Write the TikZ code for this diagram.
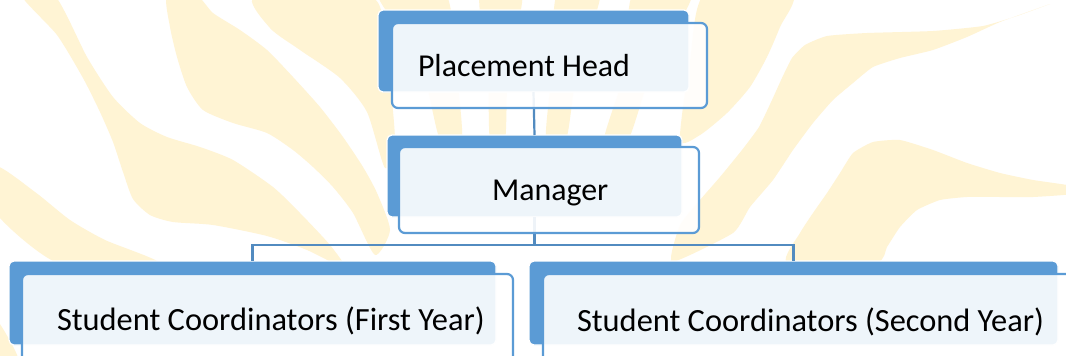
\documentclass[tikz,border=0pt]{standalone}
\usepackage{fontspec}
\setmainfont{Carlito}
\definecolor{sablue}{RGB}{91,155,213}
\definecolor{flame}{RGB}{255,244,212}
\tikzset{
  backbox/.style={rectangle, rounded corners=5pt, fill=sablue, draw=white, line width=1.2pt, inner sep=0pt, outer sep=0pt},
  frontbox/.style={rectangle, rounded corners=6pt, fill=white, fill opacity=0.9, draw=sablue, draw opacity=1, line width=2.2pt, inner sep=0pt, outer sep=0pt},
  label/.style={anchor=base west, inner sep=0pt, outer sep=0pt, font=\fontsize{31.9}{38}\selectfont, text=black},
  biglabel/.style={label, font=\fontsize{32.4}{38}\selectfont},
  conn/.style={draw=sablue!90!black, line width=2.2pt},
  ray/.style={fill=flame, draw=none}
}
\begin{document}
\begin{tikzpicture}[x=1pt,y=-1pt]
\useasboundingbox (0,0) rectangle (1066,356);
\fill[white] (0,0) rectangle (1066,356);
% background flames
\begin{scope}
\clip (0,0) rectangle (1066,356);
\fill[ray] plot[smooth cycle, tension=0.4] coordinates {(22,-4) (55,-4) (87,57) (113,97) (140,123) (167,137) (200,147) (233,160) (273,187) (300,213) (330,245) (345,268) (307,250) (267,236) (213,225) (173,222) (150,215) (133,199) (123,172) (113,142) (100,112) (83,78) (57,35)};
\fill[ray] plot[smooth cycle, tension=0.4] coordinates {(167,-4) (197,-4) (213,13) (240,30) (267,50) (293,77) (320,107) (343,137) (363,167) (377,193) (390,230) (375,255) (353,213) (333,187) (313,167) (293,150) (267,133) (233,123) (203,110) (187,87) (177,57) (170,27)};
\fill[ray] plot[smooth cycle, tension=0.4] coordinates {(255,-4) (370,-4) (385,40) (395,140) (385,168) (367,112) (340,78) (300,50) (270,28)};
\fill[ray] plot[smooth cycle, tension=0.4] coordinates {(-5,166) (35,192) (70,220) (105,240) (160,264) (60,264) (-5,212)};
\fill[ray] plot[smooth cycle, tension=0.4] coordinates {(-5,318) (18,358) (-5,358)};
\fill[ray] plot[smooth cycle, tension=0.4] coordinates {(378,-6) (445,-6) (455,60) (462,140) (440,140) (420,60)};
\fill[ray] plot[smooth cycle, tension=0.4] coordinates {(480,-6) (522,-6) (508,70) (505,140) (490,140) (488,70)};
\fill[ray] plot[smooth cycle, tension=0.4] coordinates {(557,-6) (600,-6) (577,70) (566,140) (546,140) (552,70)};
\fill[ray] plot[smooth cycle, tension=0.4] coordinates {(633,-6) (692,-6) (652,70) (628,140) (604,140) (625,70)};
\fill[ray] plot[smooth cycle, tension=0.4] coordinates {(705,-6) (792,-6) (780,27) (767,57) (750,87) (727,113) (700,135) (680,140) (690,60)};
\fill[ray] plot[smooth cycle, tension=0.3] coordinates {(1050,4) (1017,16) (983,26) (933,31) (867,33) (827,36) (805,45) (792,58) (782,78) (772,100) (759,127) (742,150) (720,177) (700,200) (680,225) (672,262) (733,233) (750,207) (773,180) (793,150) (813,123) (833,100) (853,83) (873,67) (900,58) (933,50) (967,37) (1000,22)};
\fill[ray] plot[smooth cycle, tension=0.3] coordinates {(1072,186) (1033,180) (1000,173) (967,163) (933,150) (900,140) (873,142) (853,153) (840,173) (827,193) (813,213) (800,233) (787,262) (877,262) (887,247) (900,227) (917,210) (940,200) (967,197) (1000,197) (1033,197) (1072,194)};
\end{scope}
% back boxes
\node[backbox, minimum width=311pt, minimum height=82pt] (phb) at (533.5,51) {};
\node[backbox, minimum width=295pt, minimum height=82pt] (mgb) at (534.5,176) {};
\node[backbox, minimum width=487pt, minimum height=84pt] (c1b) at (252.5,303) {};
\node[backbox, minimum width=529pt, minimum height=84pt] (c2b) at (793.5,303) {};
% connectors
\coordinate (mj) at (534.5,245);
\draw[conn] (phb.south) -- (mgb.north);
\draw[conn] (mgb.south) -- (mj) -| (c1b.north);
\draw[conn] (mj) -| (c2b.north);
% front boxes
\node[frontbox, minimum width=315pt, minimum height=85pt] (phf) at (549.5,65.5) {};
\node[frontbox, minimum width=300pt, minimum height=86pt] (mgf) at (549,190) {};
\node[frontbox, minimum width=491pt, minimum height=96pt] (c1f) at (267.5,322) {};
\node[frontbox, minimum width=537pt, minimum height=96pt] (c2f) at (811.5,322) {};
% labels
\node[label] (pht) at (418,76) {Placement Head};
\node[label] (mgt) at (492,200) {Manager};
\node[biglabel] (c1t) at (57,330) {Student Coordinators (First Year)};
\node[biglabel] (c2t) at (577,331) {Student Coordinators (Second Year)};
\end{tikzpicture}
\end{document}
